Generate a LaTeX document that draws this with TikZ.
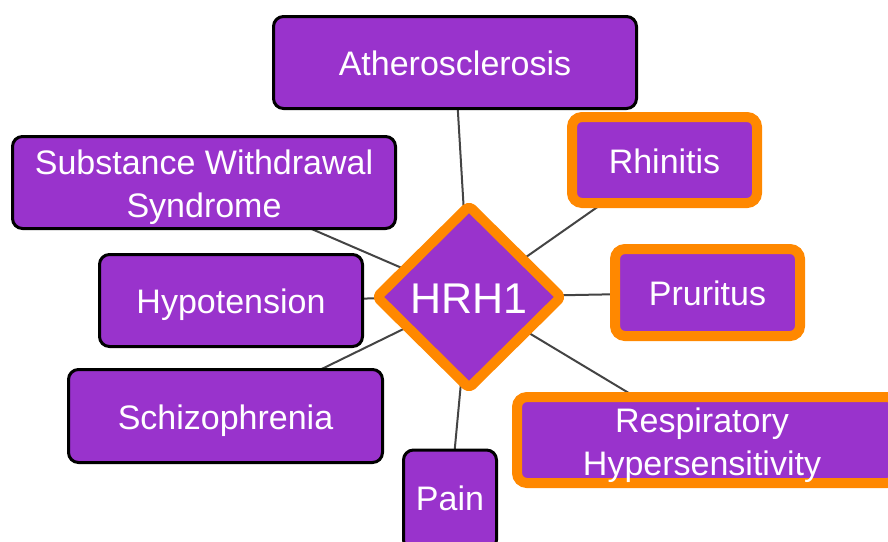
\documentclass[tikz,border=0pt]{standalone}
\usepackage{fontspec}
\setmainfont{Liberation Sans}
\usetikzlibrary{shapes.geometric,backgrounds}
\definecolor{nodepurple}{HTML}{9933CC}
\definecolor{hiorange}{HTML}{FF8800}
\definecolor{linkgray}{HTML}{444444}
\tikzset{
  disease/.style={rectangle, rounded corners=10pt, fill=nodepurple, draw=black,
    line width=3pt, text=white, align=center, inner sep=0pt,
    text height=30pt, text depth=4pt,
    font=\fontsize{34}{43}\selectfont},
  twoline/.style={text height=73pt, text depth=4pt},
  hilite/.style={disease, draw=hiorange, line width=10pt},
  gene/.style={diamond, fill=nodepurple, draw=hiorange, line width=10pt,
    line join=round, rounded corners=4pt, inner sep=0pt, text=white,
    text height=32pt, text depth=0pt,
    font=\fontsize{43}{50}\selectfont},
  link/.style={draw=linkgray, line width=2pt}
}
\begin{document}
\begin{tikzpicture}[x=1pt,y=-1pt]
\useasboundingbox (0,0) rectangle (888,541);
\clip (0,0) rectangle (888,541);

% hub gene
\node[gene, minimum width=188pt, minimum height=186pt] (hrh1) at (469,297) {HRH1};

% associated conditions
\node[disease, minimum width=363pt, minimum height=92pt] (ath) at (455,62.5) {Atherosclerosis};
\node[disease, twoline, minimum width=383pt, minimum height=92pt] (sws) at (204,182.5) {Substance Withdrawal\\Syndrome};
\node[disease, minimum width=263pt, minimum height=92pt] (hyp) at (231,300.5) {Hypotension};
\node[disease, minimum width=314pt, minimum height=93pt] (sch) at (225.5,416) {Schizophrenia};
\node[disease, text depth=10pt, minimum width=93pt, minimum height=100pt] (pain) at (450,500) {Pain};
\node[hilite, minimum width=185pt, minimum height=86pt] (rhi) at (664.5,160) {Rhinitis};
\node[hilite, minimum width=185pt, minimum height=87pt] (pru) at (707.5,292.5) {Pruritus};
\node[hilite, twoline, text depth=3pt, minimum width=380pt, minimum height=86pt] (resp) at (707,440)
  {\hspace*{-10pt}Respiratory\\\hspace*{-10pt}Hypersensitivity};

% links drawn behind the nodes, centre to centre
\begin{pgfonlayer}{background}
  \foreach \n in {ath,sws,hyp,sch,pain,rhi,pru,resp}
    \draw[link] (hrh1.center) -- (\n.center);
\end{pgfonlayer}
\end{tikzpicture}
\end{document}
